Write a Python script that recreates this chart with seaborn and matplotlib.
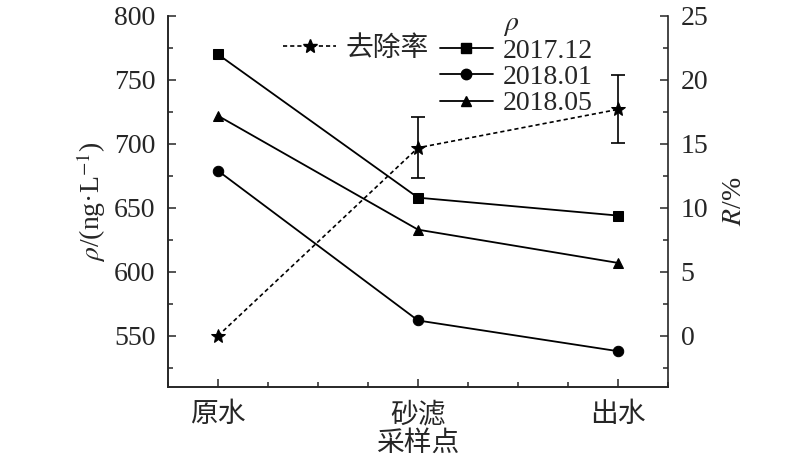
import matplotlib
matplotlib.use('Agg')
import matplotlib.pyplot as plt
import seaborn as sns
import pandas as pd
from matplotlib.lines import Line2D
from matplotlib.ticker import MultipleLocator

# data
sites = ['原水', '砂滤', '出水']
rho_2017_12 = [770, 658, 644]
rho_2018_01 = [679, 562, 538]
rho_2018_05 = [722, 633, 607]
removal = [0, 14.7, 17.7]
removal_err = [0, 2.4, 2.65]
series_names = ['2017.12', '2018.01', '2018.05']
series_markers = ['s', 'o', '^']

sns.set_style('ticks')
plt.rcParams['font.family'] = ['Liberation Serif', 'Noto Sans CJK SC']
plt.rcParams['mathtext.fontset'] = 'stix'
plt.rcParams['font.size'] = 20
plt.rcParams['axes.unicode_minus'] = False

x = list(range(len(sites)))
df = pd.DataFrame({'x': x * 3,
                   'rho': rho_2017_12 + rho_2018_01 + rho_2018_05,
                   'series': [s for s in series_names for _ in x]})

fig = plt.figure(figsize=(8, 4.61), dpi=100)
ax = fig.add_axes([0.21, 0.1605, 0.625, 0.8048])
ax2 = ax.twinx()

for name, mk in zip(series_names, series_markers):
    sub = df[df['series'] == name]
    sns.lineplot(data=sub, x='x', y='rho', ax=ax, color='k', lw=1.3,
                 marker=mk, markersize=7.5, markeredgecolor='k', legend=False)

sns.lineplot(x=x, y=removal, ax=ax2, color='k', lw=1.2, linestyle=(0, (2.5, 1.8)),
             marker='*', markersize=10, markeredgecolor='k', legend=False)
ax2.errorbar(x[1:], removal[1:], yerr=removal_err[1:], fmt='none',
             ecolor='k', elinewidth=1.2, capsize=5, capthick=1.2)

ax.set_xlim(-0.25, 2.25)
ax.set_ylim(510, 800)
ax2.set_ylim(-4, 25)
ax.set_xticks(x)
ax.set_xticklabels(sites)
ax.xaxis.set_minor_locator(MultipleLocator(0.25))
ax.yaxis.set_major_locator(MultipleLocator(50))
ax.yaxis.set_minor_locator(MultipleLocator(25))
ax2.yaxis.set_major_locator(MultipleLocator(5))
ax2.yaxis.set_minor_locator(MultipleLocator(2.5))

for a in (ax, ax2):
    a.tick_params(which='major', direction='in', length=6, width=1.1, labelsize=20, pad=9)
    a.tick_params(which='minor', direction='in', length=3.5, width=1.1)
    a.spines['top'].set_visible(False)
    for s in a.spines.values():
        s.set_linewidth(1.2)
ax.spines['right'].set_visible(False)
ax.tick_params(axis='x', which='both', top=False)
ax.tick_params(axis='x', which='major', pad=11)
ax2.tick_params(axis='x', which='both', top=False, bottom=False)

ax.set_xlabel('采样点', fontsize=20, labelpad=2)
ax.set_ylabel('$\\rho$/(ng·L$^{-1}$)', fontsize=20, labelpad=4)
ax2.set_ylabel('$R$/%', fontsize=20, labelpad=10)

blank = Line2D([], [], color='none')
h_rate = Line2D([], [], color='k', lw=1.2, linestyle=(0, (2.5, 1.8)), marker='*', markersize=10)
h_s = [Line2D([], [], color='k', lw=1.3, marker=m, markersize=7.5) for m in series_markers]
handles = [blank, h_rate, blank, blank, blank] + h_s
labels = [' ', '去除率', ' ', ' ', '$\\rho$'] + series_names
fig.legend(handles, labels, ncol=2, loc='upper left', bbox_to_anchor=(0.354, 0.978),
           frameon=False, fontsize=20, handlelength=1.9, handletextpad=0.35,
           columnspacing=0.4, labelspacing=0.03, borderpad=0, borderaxespad=0)

fig.savefig('out.png', dpi=100)
